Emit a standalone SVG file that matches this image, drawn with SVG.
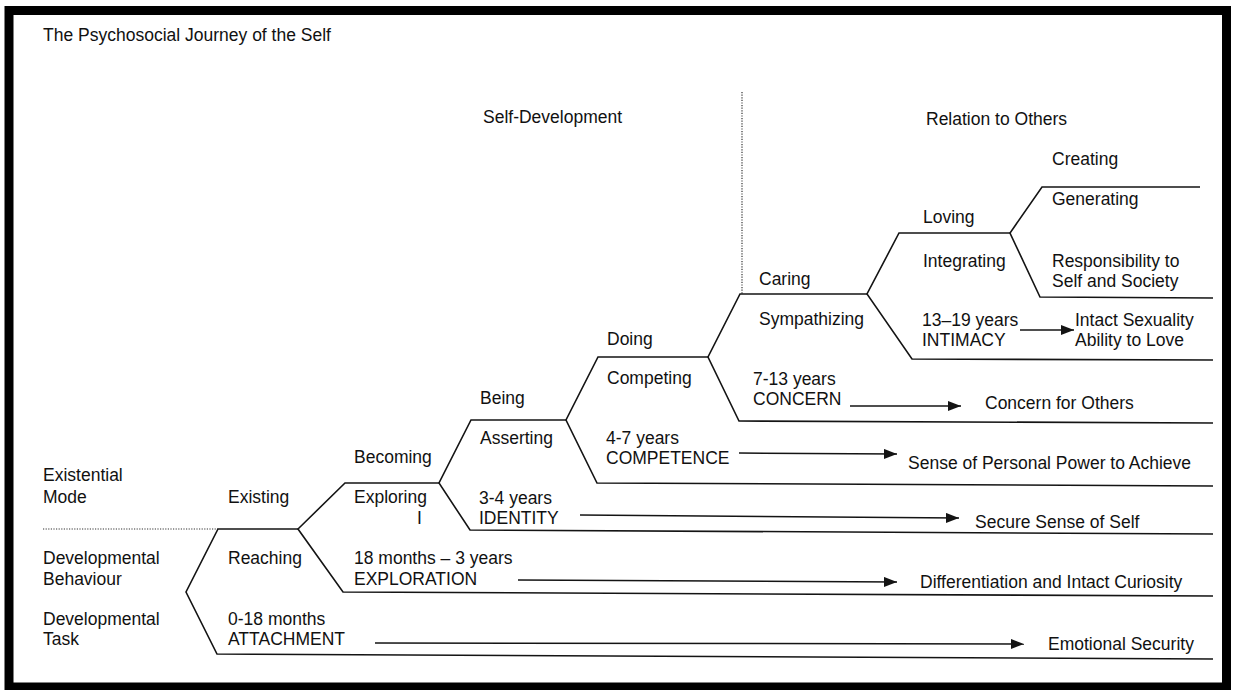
<svg xmlns="http://www.w3.org/2000/svg" width="1238" height="690" viewBox="0 0 1238 690">
<style>
  .t { font-family: "Liberation Sans", Arial, sans-serif; font-size: 17.5px; fill: #111; }
  .ln { fill: none; stroke: #141414; stroke-width: 1.6; stroke-linejoin: miter; }
  .dot { fill: none; stroke: #333; stroke-width: 1.2; stroke-dasharray: 1.2 1.4; }
  .arr { fill: none; stroke: #141414; stroke-width: 1.5; marker-end: url(#ah); }
</style>
<defs>
  <marker id="ah" markerUnits="userSpaceOnUse" markerWidth="14" markerHeight="10" refX="13" refY="5" orient="auto">
    <path d="M0,0 L13,5 L0,10 z" fill="#141414"/>
  </marker>
</defs>
<rect x="0" y="0" width="1238" height="690" fill="#ffffff"/>
<rect id="frame" x="9" y="10.5" width="1217.5" height="676.5" fill="none" stroke="#000" stroke-width="9"/>

<g id="headings">
  <text class="t" x="43" y="41">The Psychosocial Journey of the Self</text>
  <text class="t" x="483" y="123">Self-Development</text>
  <text class="t" x="926" y="125">Relation to Others</text>
  <path class="dot" d="M742,92 L742,294"/>
</g>

<g id="row-labels">
  <text class="t" x="43" y="481">Existential</text>
  <text class="t" x="43" y="503">Mode</text>
  <path class="dot" d="M43,529 L218,529"/>
  <text class="t" x="43" y="564">Developmental</text>
  <text class="t" x="43" y="585">Behaviour</text>
  <text class="t" x="43" y="625">Developmental</text>
  <text class="t" x="43" y="645">Task</text>
</g>

<g id="stage-existing">
  <path class="ln" d="M298,529 L218,529 L186,592 L217,654 L1213,659"/>
  <text class="t" x="228" y="503">Existing</text>
  <text class="t" x="228" y="564">Reaching</text>
  <text class="t" x="228" y="625">0-18 months</text>
  <text class="t" x="228" y="645">ATTACHMENT</text>
  <text class="t" x="1048" y="650">Emotional Security</text>
</g>

<g id="stage-becoming">
  <path class="ln" d="M439,483 L345,483 L298,529 L343,592 L1213,596"/>
  <text class="t" x="354" y="463">Becoming</text>
  <text class="t" x="354" y="503">Exploring</text>
  <text class="t" x="417" y="524">I</text>
  <text class="t" x="354" y="564">18 months – 3 years</text>
  <text class="t" x="354" y="585">EXPLORATION</text>
  <text class="t" x="920" y="588">Differentiation and Intact Curiosity</text>
</g>

<g id="stage-being">
  <path class="ln" d="M567,420 L471,420 L439,483 L470,530 L1213,534"/>
  <text class="t" x="480" y="404">Being</text>
  <text class="t" x="480" y="444">Asserting</text>
  <text class="t" x="479" y="504">3-4 years</text>
  <text class="t" x="479" y="524">IDENTITY</text>
  <text class="t" x="975" y="528">Secure Sense of Self</text>
</g>

<g id="stage-doing">
  <path class="ln" d="M708,357 L598,357 L566,420 L597,483 L1213,486"/>
  <text class="t" x="607" y="345">Doing</text>
  <text class="t" x="607" y="384">Competing</text>
  <text class="t" x="606" y="444">4-7 years</text>
  <text class="t" x="606" y="464">COMPETENCE</text>
  <text class="t" x="908" y="469">Sense of Personal Power to Achieve</text>
</g>

<g id="stage-caring">
  <path class="ln" d="M867,294 L740,294 L708,357 L739,421 L1213,423"/>
  <text class="t" x="759" y="285">Caring</text>
  <text class="t" x="759" y="325">Sympathizing</text>
  <text class="t" x="753" y="385">7-13 years</text>
  <text class="t" x="753" y="405">CONCERN</text>
  <text class="t" x="985" y="409">Concern for Others</text>
</g>

<g id="stage-loving">
  <path class="ln" d="M1010,233 L899,233 L867,294 L912,359 L1213,360"/>
  <text class="t" x="923" y="223">Loving</text>
  <text class="t" x="923" y="267">Integrating</text>
  <text class="t" x="922" y="326">13–19 years</text>
  <text class="t" x="922" y="346">INTIMACY</text>
  <text class="t" x="1075" y="326">Intact Sexuality</text>
  <text class="t" x="1075" y="346">Ability to Love</text>
</g>

<g id="stage-creating">
  <path class="ln" d="M1200,187 L1042,187 L1010,233 L1040,297 L1213,298"/>
  <text class="t" x="1052" y="165">Creating</text>
  <text class="t" x="1052" y="205">Generating</text>
  <text class="t" x="1052" y="267">Responsibility to</text>
  <text class="t" x="1052" y="287">Self and Society</text>
</g>

<g id="connectors">
  <path class="arr" d="M375,643 L1024,644"/>
  <path class="arr" d="M518,580 L897,582"/>
  <path class="arr" d="M580,515 L959,518"/>
  <path class="arr" d="M739,453 L897,454"/>
  <path class="arr" d="M850,406 L961,406"/>
  <path class="arr" d="M1020,330 L1074,330"/>
</g>
</svg>
